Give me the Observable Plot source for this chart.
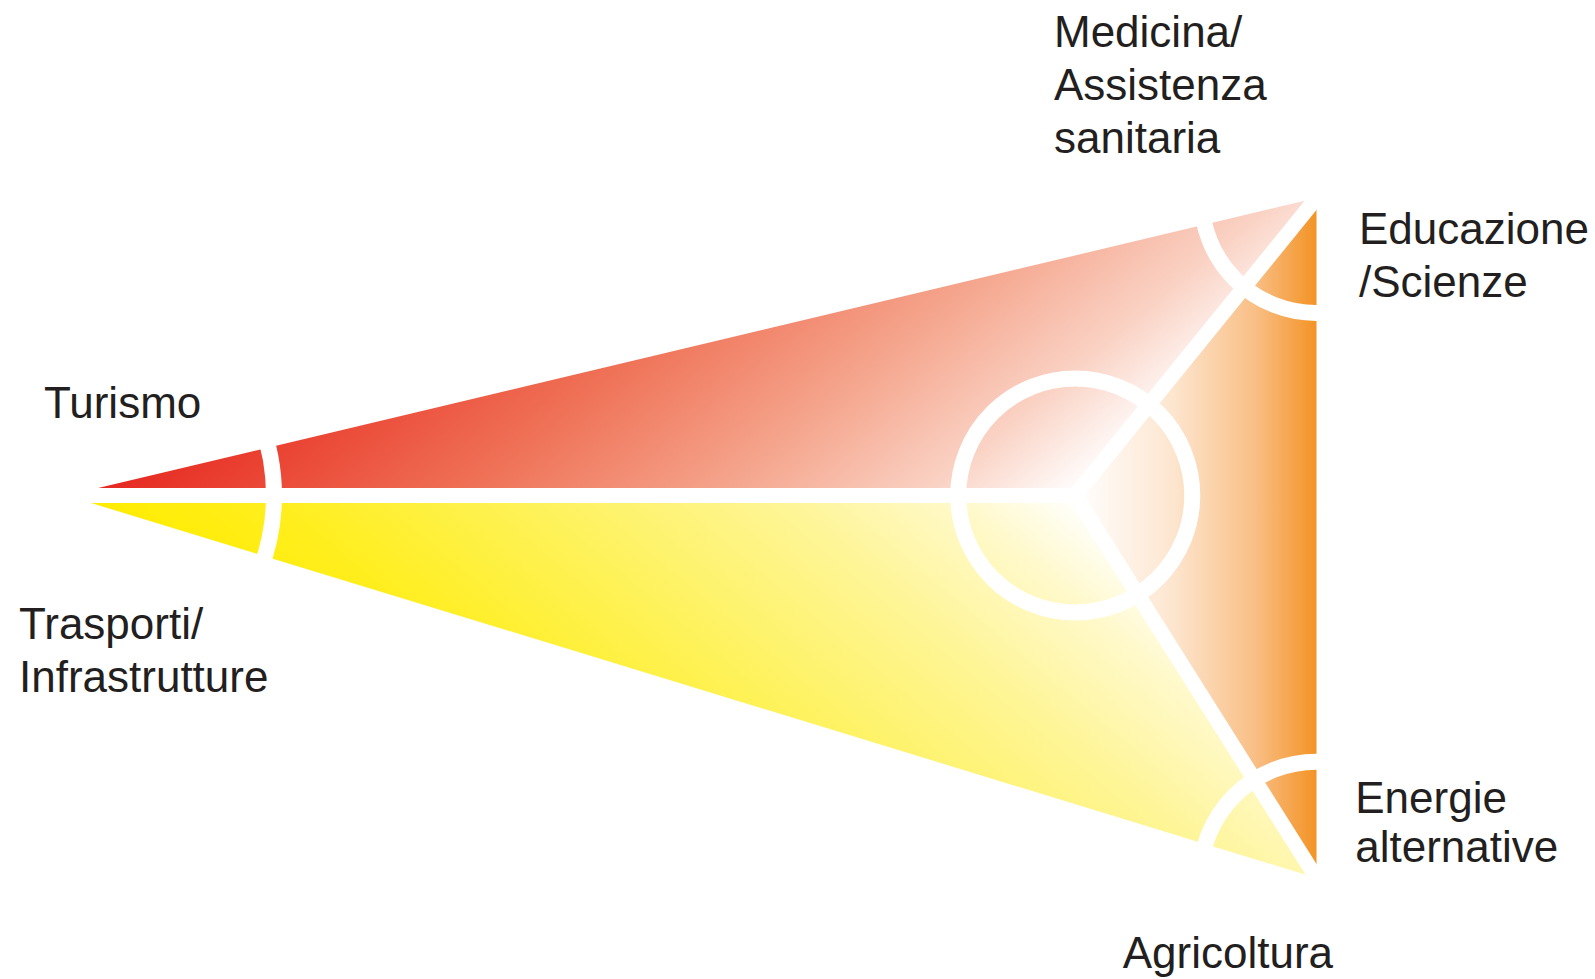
<!DOCTYPE html>
<html><head><meta charset="utf-8">
<script src="https://cdn.jsdelivr.net/npm/d3@7"></script>
<script src="https://cdn.jsdelivr.net/npm/@observablehq/plot@0.6"></script>
<style>html,body{margin:0;padding:0;background:#fff;} #chart{width:1595px;height:979px;overflow:hidden}</style>
</head><body><div id="chart"></div>
<script>
// ---- data (diagram units) ----
const vertexNames = ["left", "topRight", "bottomRight", "center"];
const vertexX = [0, 100, 100, 80.7];
const vertexY = [0, 23.8, -30.6, 0];

const triangleNames = ["rosso", "giallo", "arancio"];
const triangleVertices = [["left", "topRight", "center"], ["left", "bottomRight", "center"], ["topRight", "bottomRight", "center"]];

const spokeEnds = ["left", "topRight", "bottomRight"];

const ringCenters = ["center", "left", "topRight", "bottomRight"];
const ringRadii = [9.36, 16.6, 9.2, 9.3];

const labelTexts = ["Medicina/\nAssistenza\nsanitaria", "Educazione\n/Scienze", "Turismo", "Trasporti/\nInfrastrutture", "Energie\nalternative", "Agricoltura"];
const labelX = [79.0, 103.4, -1.8, -3.8, 103.1, 84.5];
const labelY = [27.4, 15.9, 6.2, -15.7, -29.3, -37.8];
const labelLineHeight = [1.2, 1.2, 1.2, 1.2, 1.1, 1.2];

// ---- build tables ----
const V = Object.fromEntries(vertexNames.map((n, i) => [n, {x: vertexX[i], y: vertexY[i]}]));
const triData = triangleNames.map((name, i) => triangleVertices[i].map(v => ({tri: name, x: V[v].x, y: V[v].y})));
const spokes = spokeEnds.map(e => ({x1: V.center.x, y1: V.center.y, x2: V[e].x, y2: V[e].y}));
const rings = ringCenters.map((c, i) => ({x: V[c].x, y: V[c].y, r: ringRadii[i]}));
const labels = labelTexts.map((t, i) => ({text: t, x: labelX[i], y: labelY[i], lh: labelLineHeight[i]}));
const lineHeights = Array.from(new Set(labelLineHeight));

const W = 1595, H = 979;
const plot = Plot.plot({
  width: W, height: H, margin: 0,
  style: {background: "#ffffff", overflow: "visible"},
  x: {domain: [-5.28, 122.32], axis: null},
  y: {domain: [-38.72, 39.6], axis: null},
  r: {type: "linear", domain: [0, 10], range: [0, 125]},
  marks: [
    Plot.line(triData[0], {x: "x", y: "y", fill: "url(#gRosso)", stroke: "none"}),
    Plot.line(triData[1], {x: "x", y: "y", fill: "url(#gGiallo)", stroke: "none"}),
    Plot.line(triData[2], {x: "x", y: "y", fill: "url(#gArancio)", stroke: "none"}),
    Plot.link(spokes, {x1: "x1", y1: "y1", x2: "x2", y2: "y2", stroke: "#ffffff", strokeWidth: 15}),
    Plot.dot(rings, {x: "x", y: "y", r: "r", fill: "none", stroke: "#ffffff", strokeWidth: 16}),
    ...lineHeights.map(lh => Plot.text(labels.filter(d => d.lh === lh), {x: "x", y: "y", text: "text",
      textAnchor: "start", lineAnchor: "bottom", lineHeight: lh,
      fontSize: 44, fontFamily: "Liberation Sans, Arial, sans-serif", fill: "#231F20"}))
  ]
});

// gradients positioned through the plot's scales
const sx = plot.scale("x"), sy = plot.scale("y");
const L = [sx.apply(V.left.x), sy.apply(V.left.y)];
const C = [sx.apply(V.center.x), sy.apply(V.center.y)];
const R = sx.apply(V.topRight.x);
const len = C[0] - L[0];
function dirEnd(deg) {
  const a = deg * Math.PI / 180;
  const p = len * Math.cos(a);
  return [L[0] + p * Math.cos(a), L[1] + p * Math.sin(a)];
}
const defs = d3.select(plot).insert("defs", ":first-child");
function grad(id, p1, p2, stops) {
  const g = defs.append("linearGradient").attr("id", id).attr("gradientUnits", "userSpaceOnUse")
    .attr("x1", p1[0]).attr("y1", p1[1]).attr("x2", p2[0]).attr("y2", p2[1]);
  stops.forEach(([o, c]) => g.append("stop").attr("offset", o).attr("stop-color", c));
}
grad("gRosso", L, dirEnd(50), [[0, "#E4241F"], [0.15, "#EA4232"], [0.4, "#EF7358"], [0.65, "#F5A68E"], [0.85, "#FAD2C4"], [1, "#FFFFFF"]]);
grad("gGiallo", L, dirEnd(-50), [[0, "#FFEC00"], [0.2, "#FFEE1E"], [0.45, "#FEF25A"], [0.7, "#FEF596"], [0.88, "#FFF9CC"], [1, "#FFFFFF"]]);
grad("gArancio", C, [R, C[1]], [[0, "#FFFFFF"], [0.4, "#FDE6D0"], [0.75, "#F9BE84"], [1, "#F39325"]]);

document.getElementById("chart").appendChild(plot);
</script>
</body></html>
